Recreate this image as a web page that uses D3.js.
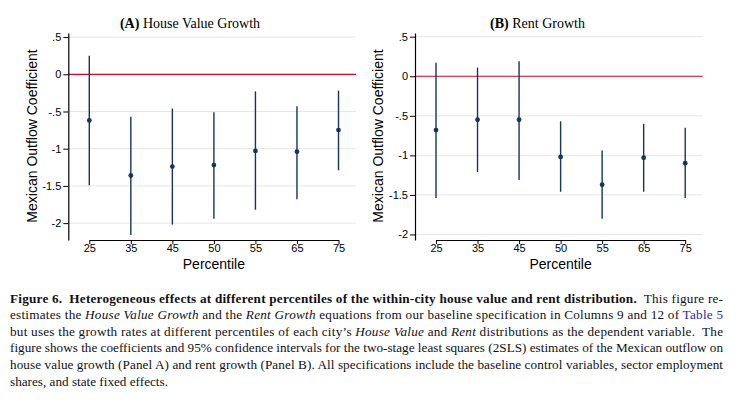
<!DOCTYPE html>
<html lang="en">
<head>
<meta charset="UTF-8">
<title>Figure 6</title>
<script src="https://d3js.org/d3.v7.min.js"></script>
<style>
    body { margin: 0; background: #fff; }
    svg { display: block; }
    .tick text { font-family: "Liberation Sans", Arial, sans-serif; font-size: 11px; fill: #000; }
</style>
</head>
<body>
<svg id="fig" width="747" height="412"></svg>
<script>

// ---------------- data ----------------
var percentiles = ["25", "35", "45", "50", "55", "65", "75"];

// Panel A: house value growth
var houseCoef  = [-0.62, -1.36, -1.24, -1.22, -1.03, -1.04, -0.75];
var houseLower = [-1.49, -2.16, -2.02, -1.94, -1.82, -1.68, -1.29];
var houseUpper = [ 0.25, -0.57, -0.46, -0.51, -0.23, -0.43, -0.22];

// Panel B: rent growth
var rentCoef  = [-0.68, -0.55, -0.55, -1.02, -1.37, -1.03, -1.10];
var rentLower = [-1.54, -1.21, -1.31, -1.46, -1.80, -1.46, -1.54];
var rentUpper = [ 0.17,  0.11,  0.19, -0.57, -0.94, -0.60, -0.65];

var yTicks = [0.5, 0, -0.5, -1, -1.5, -2];
var yTickLabels = [".5", "0", "-.5", "-1", "-1.5", "-2"];

var navy = "#15345e";
var red = "#c8102e";

var svg = d3.select("#fig");

function drawPanel(p) {
    var g = svg.append("g");

    var x = d3.scalePoint()
        .domain(percentiles)
        .range([p.x0 + 21, p.x1 - 17.5]);

    var y = d3.scaleLinear()
        .domain(p.yDomain)
        .range([240, 33]);

    // grid lines
    g.selectAll("line.grid")
        .data(yTicks)
        .enter().append("line")
        .attr("class", "grid")
        .attr("x1", p.x0).attr("x2", p.x1)
        .attr("y1", function (d) { return y(d); })
        .attr("y2", function (d) { return y(d); })
        .attr("stroke", "#e6e6e6")
        .attr("stroke-width", 1);

    // zero line
    g.append("line")
        .attr("x1", p.x0).attr("x2", p.x1)
        .attr("y1", y(0)).attr("y2", y(0))
        .attr("stroke", red)
        .attr("stroke-width", 1.2);

    // y axis
    var yAxis = d3.axisLeft(y)
        .tickValues(yTicks)
        .tickFormat(function (d, i) { return yTickLabels[i]; })
        .tickSize(5)
        .tickPadding(2)
        .tickSizeOuter(0);
    g.append("g")
        .attr("transform", "translate(" + p.x0 + ",0)")
        .call(yAxis)
        .call(function (a) {
            a.select(".domain").attr("stroke", "#000").attr("stroke-width", 1.2);
            a.selectAll(".tick line").attr("stroke", "#000");
        });

    // x axis
    var xAxis = d3.axisBottom(x)
        .tickSize(4)
        .tickPadding(0.5)
        .tickSizeOuter(0);
    g.append("g")
        .attr("transform", "translate(0,240)")
        .call(xAxis)
        .call(function (a) {
            a.select(".domain").attr("stroke", "#000").attr("stroke-width", 1.2);
            a.selectAll(".tick line").attr("stroke", "#000");
        });

    // confidence intervals
    g.selectAll("line.ci")
        .data(percentiles)
        .enter().append("line")
        .attr("class", "ci")
        .attr("x1", function (d) { return x(d); })
        .attr("x2", function (d) { return x(d); })
        .attr("y1", function (d, i) { return y(p.upper[i]); })
        .attr("y2", function (d, i) { return y(p.lower[i]); })
        .attr("stroke", navy)
        .attr("stroke-width", 1.4);

    // point estimates
    g.selectAll("circle")
        .data(percentiles)
        .enter().append("circle")
        .attr("cx", function (d) { return x(d); })
        .attr("cy", function (d, i) { return y(p.coef[i]); })
        .attr("r", 2.4)
        .attr("fill", navy);

    // panel title
    var t = g.append("text")
        .attr("x", p.titleX)
        .attr("y", 28)
        .attr("text-anchor", "middle")
        .style("font-family", "'Liberation Serif', 'Times New Roman', serif")
        .style("font-size", "14px");
    t.append("tspan").style("font-weight", "bold").text(p.letter);
    t.append("tspan").text(" " + p.title);

    // axis titles
    g.append("text")
        .attr("transform", "translate(" + p.yLabelX + ",136) rotate(-90)")
        .attr("text-anchor", "middle")
        .attr("dy", "0.35em")
        .style("font-family", "'Liberation Sans', Arial, sans-serif")
        .style("font-size", "14px")
        .text("Mexican Outflow Coefficient");

    g.append("text")
        .attr("x", (x.range()[0] + x.range()[1]) / 2)
        .attr("y", 268.5)
        .attr("text-anchor", "middle")
        .style("font-family", "'Liberation Sans', Arial, sans-serif")
        .style("font-size", "14px")
        .text("Percentile");
}

drawPanel({
    x0: 68.3, x1: 356, yDomain: [-2.227, 0.555],
    coef: houseCoef, lower: houseLower, upper: houseUpper,
    letter: "(A)", title: "House Value Growth", titleX: 190, yLabelX: 32
});

drawPanel({
    x0: 415, x1: 702.7, yDomain: [-2.07, 0.547],
    coef: rentCoef, lower: rentLower, upper: rentUpper,
    letter: "(B)", title: "Rent Growth", titleX: 537.5, yLabelX: 378.5
});

// ---------------- caption ----------------
// each line: list of [text, style]  (b = bold, i = italic, l = link, "" = plain)
var captionLines = [
    [["Figure 6.  Heterogeneous effects at different percentiles of the within-city house value and rent distribution.", "b"],
     ["  This figure re-", ""]],
    [["estimates the ", ""], ["House Value Growth", "i"], [" and the ", ""], ["Rent Growth", "i"],
     [" equations from our baseline specification in Columns 9 and 12 of ", ""], ["Table 5", "l"]],
    [["but uses the growth rates at different percentiles of each city\u2019s ", ""], ["House Value", "i"],
     [" and ", ""], ["Rent", "i"], [" distributions as the dependent variable.  The", ""]],
    [["figure shows the coefficients and 95% confidence intervals for the two-stage least squares (2SLS) estimates of the Mexican outflow on", ""]],
    [["house value growth (Panel A) and rent growth (Panel B). All specifications include the baseline control variables, sector employment", ""]],
    [["shares, and state fixed effects.", ""]]
];

var capLeft = 10, capWidth = 713, capTop = 302.5, capStep = 16.6;

captionLines.forEach(function (line, li) {
    var txt = svg.append("text")
        .attr("x", capLeft)
        .attr("y", capTop + li * capStep)
        .style("font-family", "'Liberation Serif', 'Times New Roman', serif")
        .style("font-size", "13.2px")
        .style("white-space", "pre")
        .attr("fill", "#111");

    line.forEach(function (seg) {
        var ts = txt.append("tspan").text(seg[0]);
        if (seg[1] === "b") ts.style("font-weight", "bold");
        if (seg[1] === "i") ts.style("font-style", "italic");
        if (seg[1] === "l") ts.attr("fill", "#2a2aa0");
    });

    // justify every line but the last
    if (li < captionLines.length - 1) {
        txt.attr("textLength", capWidth).attr("lengthAdjust", "spacing");
    }
});

</script>
</body>
</html>
